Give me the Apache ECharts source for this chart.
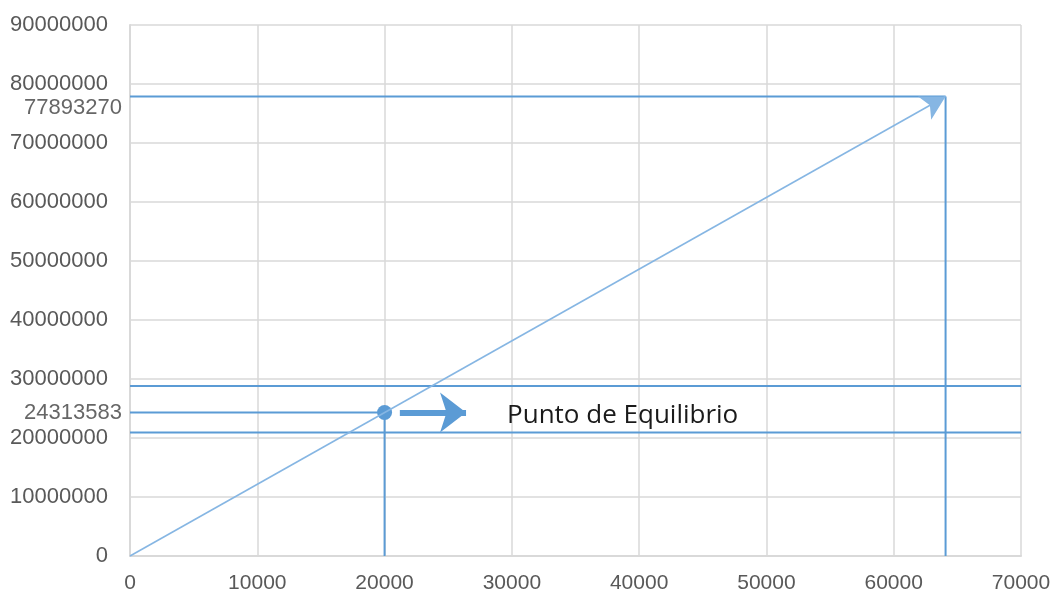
<!DOCTYPE html>
<html>
<head>
<meta charset="utf-8">
<script src="https://cdn.jsdelivr.net/npm/echarts@6/dist/echarts.min.js"></script>
<style>
  html, body { margin: 0; padding: 0; background: #fff; }
  #chart { width: 1054px; height: 594px; }
</style>
</head>
<body>
<div id="chart"></div>
<script>
// Axis ranges and ticks
const xTicks = [0, 10000, 20000, 30000, 40000, 50000, 60000, 70000];
const yTicks = [0, 10000000, 20000000, 30000000, 40000000, 50000000, 60000000, 70000000, 80000000, 90000000];

// Revenue line: from the origin to the end point
const salesLine = [[0, 0], [64074, 77893270]];

// Break-even point
const breakEven = [20000, 24313583];
const breakEvenLabel = 'Punto de Equilibrio';

// Pointer arrow next to the break-even point
const pointerArrow = [[21200, 24313583], [26400, 24313583]];

// Guide lines through the break-even point and the end point
const endGuideH = [[0, 77893270], [64074, 77893270]];
const endGuideV = [[64074, 77893270], [64074, 0]];
const beGuideH = [[0, 24313583], [20000, 24313583]];
const beGuideV = [[20000, 24313583], [20000, 0]];

// Band lines around the break-even level
const bandUpper = [[0, 28800000], [70000, 28800000]];
const bandLower = [[0, 20950000], [70000, 20950000]];

const BLUE = '#5b9bd5';
const LIGHT = '#86b6e3';
const GRID = '#d9d9d9';
const TXT = '#595959';

const chart = echarts.init(document.getElementById('chart'));

function guide(data, extra) {
  return Object.assign({
    type: 'line',
    data: data,
    showSymbol: false,
    symbol: 'none',
    silent: true,
    clip: false,
    lineStyle: { color: BLUE, width: 2 }
  }, extra || {});
}

// A straight segment with an arrow head at its end, drawn as a mark line
function arrow(coords, color, width, headSize) {
  return {
    type: 'line',
    data: [],
    silent: true,
    markLine: {
      silent: true,
      animation: false,
      symbol: ['none', 'arrow'],
      symbolSize: headSize,
      label: { show: false },
      lineStyle: { color: color, width: width, type: 'solid' },
      emphasis: { disabled: true },
      data: [[{ coord: coords[0] }, { coord: coords[1] }]]
    }
  };
}

const plainNumber = v => String(v);

chart.setOption({
  animation: false,
  backgroundColor: '#fff',
  grid: { left: 130, right: 33, top: 25, bottom: 38 },
  xAxis: {
    type: 'value',
    min: xTicks[0],
    max: xTicks[xTicks.length - 1],
    interval: 10000,
    axisLine: { show: true, lineStyle: { color: GRID, width: 2 } },
    axisTick: { show: false },
    splitLine: { show: true, lineStyle: { color: GRID, width: 1.5 } },
    axisLabel: {
      color: TXT, fontFamily: 'Liberation Sans', fontSize: 21, margin: 17,
      showMaxLabel: true, formatter: plainNumber
    }
  },
  yAxis: {
    type: 'value',
    min: yTicks[0],
    max: yTicks[yTicks.length - 1],
    interval: 10000000,
    axisLine: { show: true, lineStyle: { color: GRID, width: 2 } },
    axisTick: { show: false },
    splitLine: { show: true, lineStyle: { color: GRID, width: 1.5 } },
    axisLabel: {
      color: TXT, fontFamily: 'Liberation Sans', fontSize: 22, margin: 22,
      padding: [0, 0, 8, 0], formatter: plainNumber
    }
  },
  series: [
    guide(bandUpper),
    guide(bandLower),
    guide(endGuideH),
    guide(endGuideV),
    guide(beGuideH),
    guide(beGuideV),
    // Value labels beside the guide lines
    {
      type: 'scatter',
      silent: true,
      symbolSize: 0,
      data: [
        { value: endGuideH[0], label: { offset: [2, 12] }, name: String(endGuideH[0][1]) },
        { value: beGuideH[0], label: { offset: [2, 0] }, name: String(beGuideH[0][1]) }
      ],
      label: {
        show: true,
        position: 'left',
        distance: 10,
        color: '#404040',
        fontFamily: 'Liberation Sans',
        fontSize: 22,
        formatter: p => p.name
      }
    },
    // Revenue line with arrow head
    arrow(salesLine, LIGHT, 1.6, [20, 24]),
    // Pointer arrow
    arrow(pointerArrow, BLUE, 6, [30, 26]),
    // Break-even marker and caption
    {
      type: 'scatter',
      silent: true,
      symbol: 'circle',
      symbolSize: 15,
      itemStyle: { color: BLUE, opacity: 1 },
      data: [breakEven],
      label: {
        show: true,
        position: 'right',
        distance: 115,
        offset: [0, 3],
        color: '#1a1a1a',
        fontFamily: 'Open Sans',
        fontSize: 26,
        formatter: () => breakEvenLabel
      }
    }
  ]
});
</script>
</body>
</html>
